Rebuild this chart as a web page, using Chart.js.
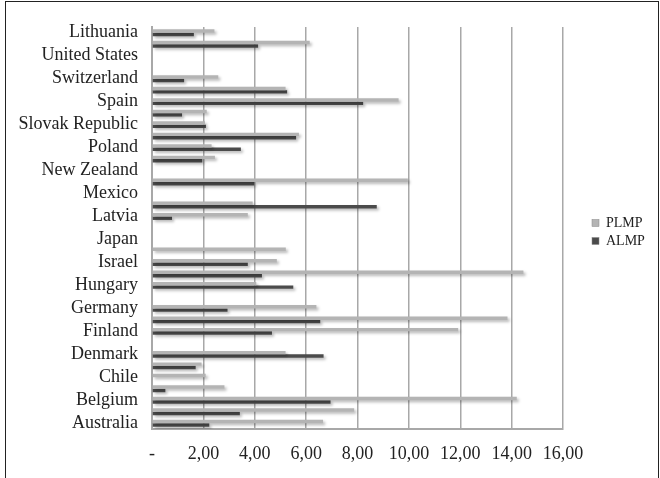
<!DOCTYPE html>
<html>
<head>
<meta charset="utf-8">
<script src="https://cdn.jsdelivr.net/npm/chart.js@4"></script>
<style>
  body { margin: 0; background: #fff; }
  #wrap { position: relative; width: 660px; height: 478px; overflow: hidden; }
  #frame { position: absolute; left: 5px; top: 1px; width: 652px; height: 490px; border: 1px solid #222; }
  #chart { position: absolute; left: 0; top: 0; }
</style>
</head>
<body>
<div id="wrap">
  <div id="frame"></div>
  <canvas id="chart" width="660" height="478"></canvas>
</div>
<script>
// categories, bottom to top (only every other one gets a label)
const countries = [
  "Australia", "Austria", "Belgium", "Canada", "Chile", "Czech Republic",
  "Denmark", "Estonia", "Finland", "France", "Germany", "Greece",
  "Hungary", "Ireland", "Israel", "Italy", "Japan", "Korea",
  "Latvia", "Luxembourg", "Mexico", "Netherlands", "New Zealand", "Norway",
  "Poland", "Portugal", "Slovak Republic", "Slovenia", "Spain", "Sweden",
  "Switzerland", "United Kingdom", "United States", "OECD", "Lithuania"
];

const plmp = [
  6.66, 7.87, 14.20, 2.82, 2.09, 1.93,
  5.20, null, 11.92, 13.84, 6.40, null,
  4.06, 14.46, 4.86, 5.21, null, null,
  3.73, 3.92, null, 9.96, null, 2.45,
  2.32, 5.72, 2.06, 2.13, 9.60, 5.20,
  2.58, null, null, 6.14, 2.43
];

const almp = [
  2.23, 3.42, 6.95, 0.52, null, 1.70,
  6.68, null, 4.67, 6.55, 2.94, null,
  5.50, 4.28, 3.73, null, null, null,
  0.78, 8.75, null, 3.98, null, 1.96,
  3.46, 5.61, 2.10, 1.17, 8.22, 5.26,
  1.25, null, null, 4.13, 1.63
];

const xTicks = [0, 2, 4, 6, 8, 10, 12, 14, 16];
const xTickLabels = ["-", "2,00", "4,00", "6,00", "8,00", "10,00", "12,00", "14,00", "16,00"];

const serif = "'Liberation Serif', 'Times New Roman', serif";

// soft shadow under the bars
const barShadow = {
  id: "barShadow",
  beforeDatasetsDraw(chart) {
    const c = chart.ctx;
    c.save();
    c.shadowColor = "rgba(0,0,0,0.28)";
    c.shadowBlur = 3;
    c.shadowOffsetX = 2;
    c.shadowOffsetY = 2;
  },
  afterDatasetsDraw(chart) {
    chart.ctx.restore();
  }
};

// legend on the right, built from the datasets
const sideLegend = {
  id: "sideLegend",
  afterDraw(chart) {
    const c = chart.ctx;
    const x = 592, y0 = 223, step = 18;
    c.save();
    c.font = "14px " + serif;
    c.textBaseline = "middle";
    chart.data.datasets.forEach((ds, i) => {
      const y = y0 + i * step;
      c.fillStyle = ds.backgroundColor;
      c.fillRect(x, y - 3.5, 7, 7);
      c.strokeStyle = "#888";
      c.lineWidth = 0.5;
      c.strokeRect(x, y - 3.5, 7, 7);
      c.fillStyle = "#222";
      c.fillText(ds.label, x + 14, y);
    });
    c.restore();
  }
};

new Chart(document.getElementById("chart"), {
  type: "bar",
  data: {
    labels: countries,
    datasets: [
      { label: "PLMP", data: plmp, backgroundColor: "#b4b4b4" },
      { label: "ALMP", data: almp, backgroundColor: "#4b4b4b" }
    ]
  },
  options: {
    indexAxis: "y",
    responsive: false,
    animation: false,
    categoryPercentage: 0.6,
    barPercentage: 1.0,
    layout: { padding: { left: 18, right: 97, top: 27, bottom: 13 } },
    plugins: {
      legend: { display: false },
      tooltip: { enabled: false }
    },
    scales: {
      x: {
        min: 0,
        max: 16,
        afterBuildTicks(axis) {
          axis.ticks = xTicks.map(v => ({ value: v }));
        },
        afterFit(axis) { axis.height = 36; },
        grid: { color: "#a8a8a8", lineWidth: 1.5, drawTicks: false },
        border: { display: true, color: "#a8a8a8", width: 2 },
        ticks: {
          padding: 14,
          color: "#222",
          font: { family: serif, size: 18 },
          callback: (v) => xTickLabels[xTicks.indexOf(v)]
        }
      },
      y: {
        reverse: true,
        afterFit(axis) { axis.width = 134; },
        grid: { display: false, drawTicks: false },
        border: { display: true, color: "#a8a8a8", width: 2 },
        ticks: {
          autoSkip: false,
          padding: 14,
          color: "#222",
          font: { family: serif, size: 18 },
          callback: (v, i) => (i % 2 === 0 ? countries[i] : "")
        }
      }
    }
  },
  plugins: [barShadow, sideLegend]
});
</script>
</body>
</html>
